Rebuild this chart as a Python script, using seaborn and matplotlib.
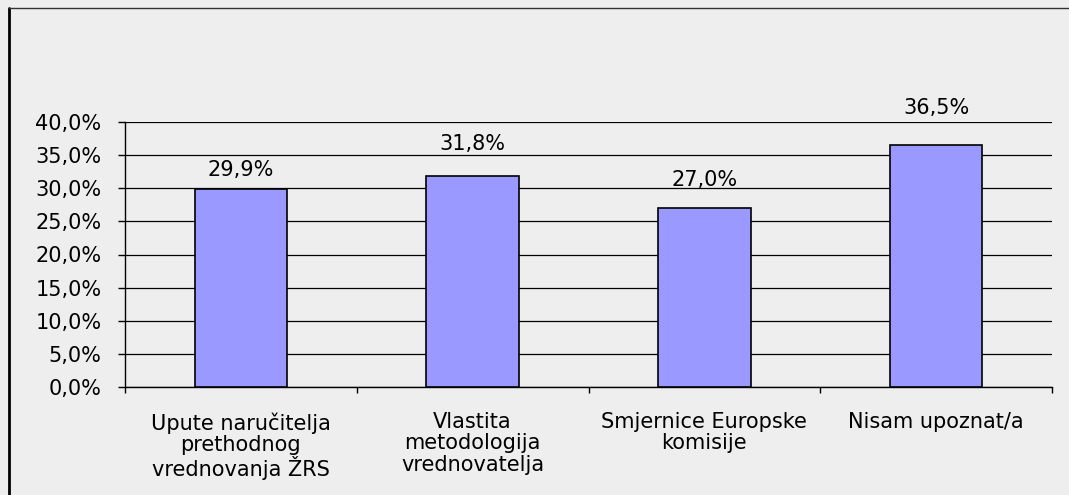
import matplotlib
matplotlib.use("Agg")
import matplotlib.pyplot as plt
import seaborn as sns
import pandas as pd
import numpy as np
from matplotlib.lines import Line2D

categories = ["Upute naručitelja\nprethodnog\nvrednovanja ŽRS",
              "Vlastita\nmetodologija\nvrednovatelja",
              "Smjernice Europske\nkomisije",
              "Nisam upoznat/a"]
values = [29.9, 31.8, 27.0, 36.5]
yticks = [0, 5, 10, 15, 20, 25, 30, 35, 40]

# label gap above bar tops, in pixels (style, as laid out in the reference)
label_gap_px = [13, 26, 22, 31]

sns.set_theme(style="white")
plt.rcParams['font.family'] = ['DejaVu Sans']
bg = "#EEEEEE"
fs = 15

df = pd.DataFrame({"cat": categories, "val": values})

fig = plt.figure(figsize=(10.69, 4.95), dpi=100, facecolor=bg)
ax = fig.add_axes([125/1069, 1 - 387/495, (1052-125)/1069, (387-122)/495])
ax.set_facecolor(bg)

sns.barplot(data=df, x="cat", y="val", ax=ax, width=0.4, color="#9999FF",
            edgecolor="black", linewidth=1.2, saturation=1, zorder=3)

ax.set_xlim(-0.5, 3.5)
ax.set_ylim(0, 40)
ax.set_yticks(yticks)
ax.set_yticklabels([f"{v:.1f}%".replace(".", ",") for v in yticks], fontsize=fs, color="black")
ax.yaxis.grid(True, color="black", linewidth=0.9, zorder=0)
ax.set_axisbelow(True)

ax.set_xticks(range(len(categories)))
ax.set_xticklabels(categories, fontsize=fs, color="black", linespacing=1.08, va="top")
ax.set_xticks(np.arange(-0.5, 4, 1), minor=True)
ax.tick_params(axis="x", which="major", length=0, pad=18)
ax.tick_params(axis="x", which="minor", length=4, width=1, color="black", direction="out", bottom=True)
ax.tick_params(axis="y", length=5, width=1, color="black", direction="out", left=True, pad=12)
ax.set_xlabel("")
ax.set_ylabel("")

for s in ["top", "right"]:
    ax.spines[s].set_visible(False)
for s in ["left", "bottom"]:
    ax.spines[s].set_color("black")
    ax.spines[s].set_linewidth(1.0)

for i, (v, g) in enumerate(zip(values, label_gap_px)):
    ax.annotate(f"{v:.1f}%".replace(".", ","), (i, v), xytext=(0, g * 0.72),
                textcoords="offset points", ha="center", va="baseline",
                fontsize=fs, color="black")

# figure border (left and top)
fig.add_artist(Line2D([9/1069, 9/1069], [0, 1 - 8/495], transform=fig.transFigure,
                      color="black", linewidth=2.0))
fig.add_artist(Line2D([9/1069, 1], [1 - 8/495, 1 - 8/495], transform=fig.transFigure,
                      color="#333333", linewidth=1.0))

fig.savefig("out.png", dpi=100, facecolor=bg)
